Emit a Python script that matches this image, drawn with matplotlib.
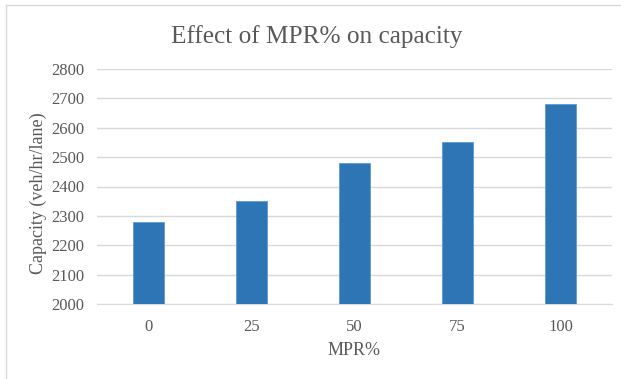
import matplotlib
matplotlib.use("Agg")
import matplotlib.pyplot as plt
from matplotlib.lines import Line2D

categories = ["0", "25", "50", "75", "100"]
capacity = [2280, 2350, 2480, 2550, 2680]
yticks = [2000, 2100, 2200, 2300, 2400, 2500, 2600, 2700, 2800]

plt.rcParams['font.family'] = ['Liberation Serif', 'DejaVu Serif']
W, H = 621, 379
fig = plt.figure(figsize=(W/100, H/100), dpi=100)
ax = fig.add_axes([97/W, 1-304/H, (612-97)/W, (304-69)/H])

x = list(range(len(categories)))
ax.bar(x, capacity, width=0.31, color='#2E75B6', edgecolor='#5B9BD5', linewidth=0.6, zorder=3)
ax.set_xlim(-0.5, len(categories)-0.5)
ax.set_ylim(2000, 2800)
ax.set_yticks(yticks)
ax.set_xticks(x)
ax.set_xticklabels(categories)
ax.grid(axis='y', color='#D9D9D9', linewidth=1.0, zorder=0)
for s in ['top', 'right', 'left']:
    ax.spines[s].set_visible(False)
ax.spines['bottom'].set_color('#D9D9D9')
ax.tick_params(axis='both', length=0, labelsize=12, colors='#595959')
ax.tick_params(axis='x', pad=11)
ax.tick_params(axis='y', pad=9)
ax.set_xlabel('MPR%', fontsize=13, color='#595959', labelpad=5)
ax.set_ylabel('Capacity (veh/hr/lane)', fontsize=13, color='#595959')
ax.yaxis.set_label_coords((47 - 97)/(612-97), 0.5 - 7/235)

fig.text(317/W, 1-43/H, 'Effect of MPR% on capacity', ha='center', va='baseline',
         fontsize=18.2, color='#595959')

# chart frame lines (top and left)
fig.add_artist(Line2D([5.5/W, 1], [1-4.5/H, 1-4.5/H], color='#D9D9D9', linewidth=1.0))
fig.add_artist(Line2D([5.5/W, 5.5/W], [0, 1-4.5/H], color='#D9D9D9', linewidth=1.0))

fig.savefig('out.png', dpi=100)
